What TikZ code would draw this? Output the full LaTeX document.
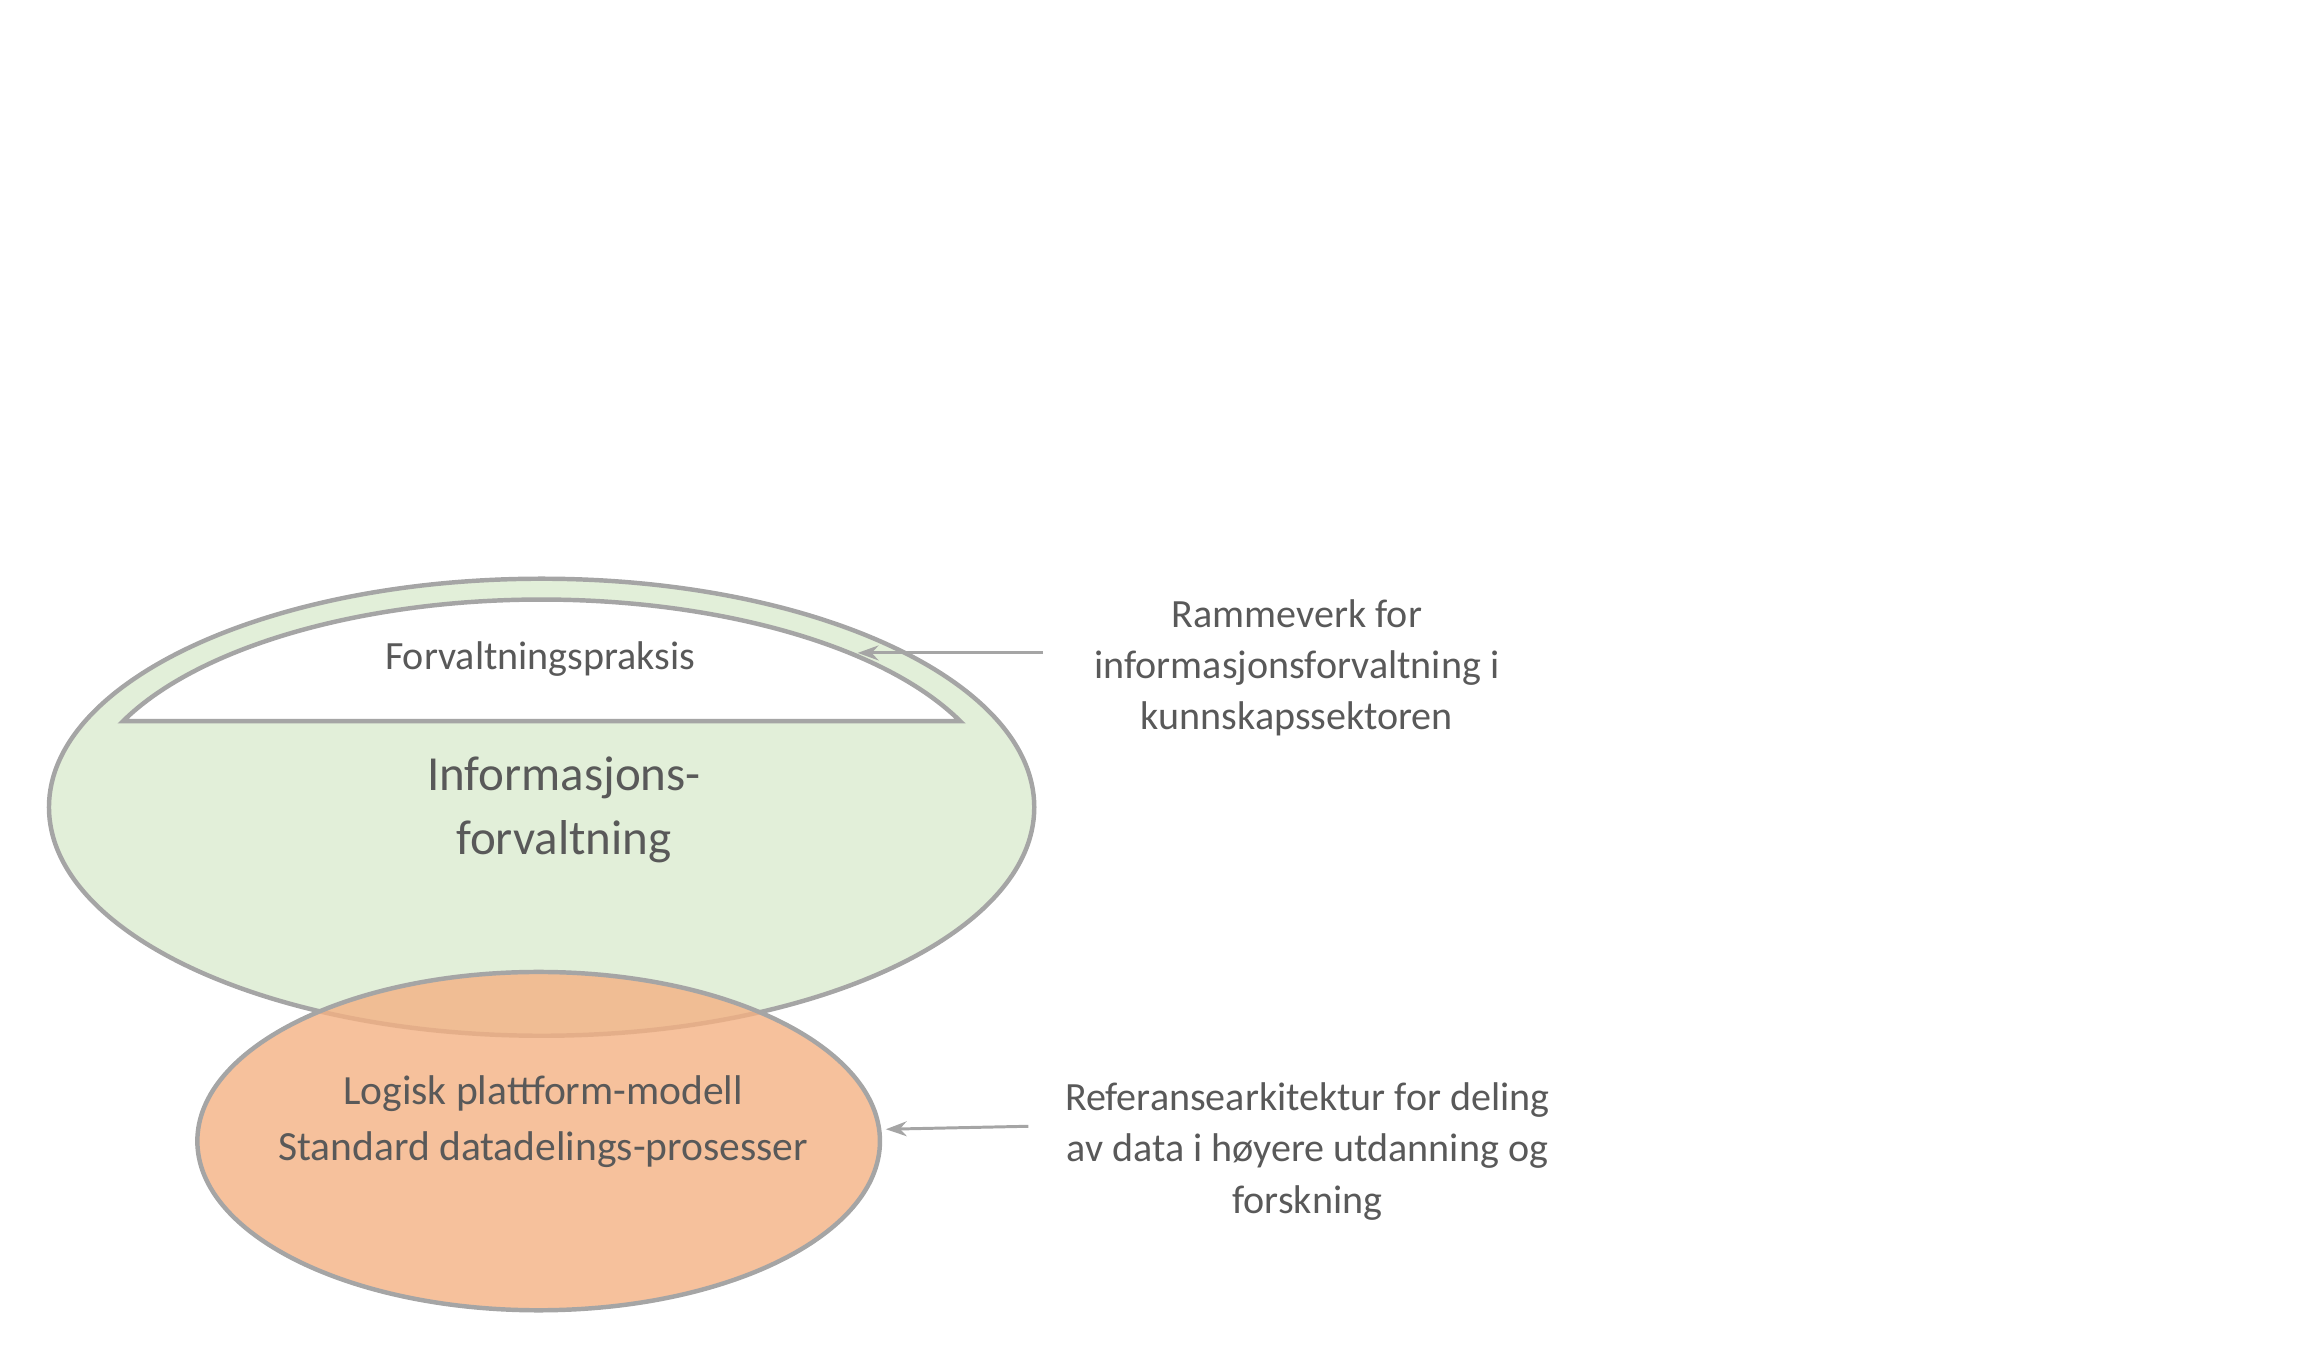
\documentclass[tikz,border=0pt]{standalone}
\usepackage{fontspec}
\setmainfont{Carlito}
\usetikzlibrary{arrows.meta}
\definecolor{edge}{HTML}{A5A5A5}
\definecolor{txt}{HTML}{595959}
\definecolor{grn}{HTML}{E2EFD9}
\definecolor{org}{HTML}{F4B183}
\begin{document}
\begin{tikzpicture}[x=1pt,y=-1pt,
  shp/.style={draw=edge,line width=3pt},
  lbl/.style={text=txt,align=center,font=\fontsize{27}{34.5}\selectfont},
  arr/.style={draw=edge,line width=2pt,-{Stealth[length=14pt,width=10pt]}}]
\useasboundingbox (0,0) rectangle (1552,909);
\path[shp,fill=grn] (365,544) ellipse[x radius=332,y radius=154];
\path[shp,fill=white] ({365+310*cos(24.5)},486) arc[start angle=24.5,end angle=155.5,x radius=310,y radius=-140] -- cycle;
\path[shp,fill=org,fill opacity=0.8] (363,769) ellipse[x radius=230,y radius=114];
\node[lbl] (fp) at (364,444) {Forvaltningspraksis};
\node[lbl,font=\fontsize{33}{43}\selectfont] (inf) at (380,546) {Informasjons-\\forvaltning};
\node[lbl,font=\fontsize{28}{38}\selectfont] (log) at (366,756) {Logisk plattform-modell\\Standard datadelings-prosesser};
\node[lbl] (r1) at (874,450) {Rammeverk for\\informasjonsforvaltning i\\kunnskapssektoren};
\node[lbl] (r2) at (881,776) {Referansearkitektur for deling\\av data i høyere utdanning og\\forskning};
\coordinate (a1s) at (703,440); \coordinate (a1e) at (578,440);
\coordinate (a2s) at (693,759); \coordinate (a2e) at (597,761);
\draw[arr] (a1s) -- (a1e);
\draw[arr] (a2s) -- (a2e);
\end{tikzpicture}
\end{document}
